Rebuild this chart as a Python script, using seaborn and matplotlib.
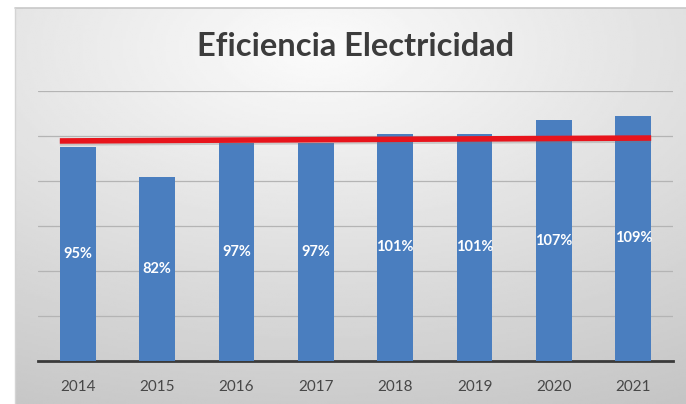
"""Eficiencia Electricidad chart"""
import numpy as np
import pandas as pd
import seaborn as sns
import matplotlib.pyplot as plt
from matplotlib.transforms import ScaledTranslation

years = ['2014', '2015', '2016', '2017', '2018', '2019', '2020', '2021']
eficiencia = [95, 82, 97, 97, 101, 101, 107, 109]
# red target line, read at its two ends
meta = [97.8, 99.1]

sns.set_theme(style='white')
plt.rcParams['font.family'] = ['Lato', 'DejaVu Sans']

fig = plt.figure(figsize=(6.86, 4.04), dpi=100)

# grey gradient panel behind the chart
bg = fig.add_axes([15 / 686, 0, 1 - 15 / 686, 1 - 8 / 404])
yy, xx = np.mgrid[0:1:200j, 0:1:300j]
dist = np.sqrt((xx - 0.45) ** 2 + ((yy - 0.1) * 1.1) ** 2)
bg.imshow(0.985 - 0.19 * dist, cmap='gray', vmin=0, vmax=1, aspect='auto',
          extent=[0, 1, 1, 0])
bg.axis('off')
fig.add_artist(plt.Line2D([15 / 686, 1], [1 - 8 / 404, 1 - 8 / 404],
                          color='#c8c8c8', lw=1.2))
fig.add_artist(plt.Line2D([15 / 686, 15 / 686], [0, 1 - 8 / 404],
                          color='#d4d4d4', lw=1.0))

ax = fig.add_axes([38 / 686, 43 / 404, 635 / 686, 270 / 404])
ax.patch.set_alpha(0)

df = pd.DataFrame({'year': years, 'eficiencia': eficiencia})
sns.barplot(data=df, x='year', y='eficiencia', color='#4a7ebf', saturation=1,
            width=0.45, linewidth=0, edgecolor='none', ax=ax, zorder=3)

for i, v in enumerate(eficiencia):
    ax.text(i, v / 2, f'{v}%', ha='center', va='center', color='white',
            fontsize=10.5, fontweight='bold', zorder=5)

# red line across the bars, with a faint shadow
xs = [-0.225, len(years) - 1 + 0.225]
shadow = ax.transData + ScaledTranslation(0, -2 / 100, fig.dpi_scale_trans)
ax.plot(xs, meta, color='#7a7a7a', lw=4, alpha=0.3, zorder=3.5,
        solid_capstyle='butt', transform=shadow)
ax.plot(xs, meta, color='#e8141c', lw=4, zorder=4, solid_capstyle='butt')

ax.set_ylim(0, 120)
ax.set_xlim(-0.5, len(years) - 0.5)
ax.set_yticks([20, 40, 60, 80, 100, 120])
ax.yaxis.grid(True, color='#b4b4b4', lw=0.9, zorder=0)
ax.set_axisbelow(True)
ax.tick_params(axis='y', left=False, labelleft=False)
ax.tick_params(axis='x', bottom=False, labelsize=11, labelcolor='#474747', pad=8)
ax.set_xlabel('')
ax.set_ylabel('')
for side in ['top', 'right', 'left']:
    ax.spines[side].set_visible(False)
ax.spines['bottom'].set_color('#3a3a3a')
ax.spines['bottom'].set_linewidth(2)

fig.text(356 / 686, 1 - 46 / 404, 'Eficiencia Electricidad', ha='center',
         va='center', fontsize=23.5, fontweight='bold', color='#3c3c3c')

plt.savefig('out.png', dpi=100)
plt.close()
